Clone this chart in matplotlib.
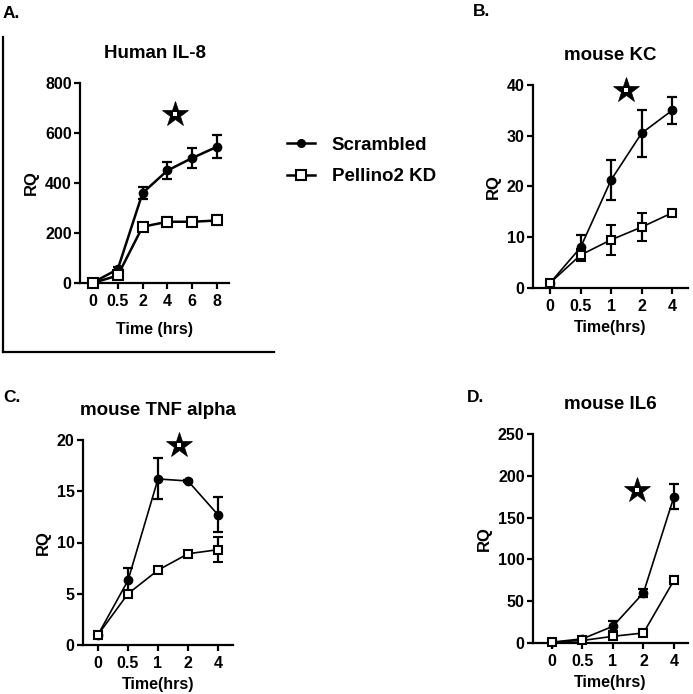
import numpy as np
import matplotlib
matplotlib.use("Agg")
import matplotlib.pyplot as plt
from matplotlib.lines import Line2D

plt.rcParams.update({
    "font.family": ["Liberation Sans", "DejaVu Sans"],
    "font.weight": "bold",
    "axes.labelweight": "bold",
    "axes.titleweight": "bold",
    "axes.linewidth": 1.6,
    "xtick.major.width": 1.6,
    "ytick.major.width": 1.6,
    "xtick.major.size": 4,
    "ytick.major.size": 4,
    "xtick.labelsize": 11.5,
    "ytick.labelsize": 11.5,
    "xtick.major.pad": 4,
    "ytick.major.pad": 2,
})

# ---- data ----
# A: Human IL-8
a_times = ["0", "0.5", "2", "4", "6", "8"]
a_scr = [2, 55, 360, 450, 500, 545]
a_scr_err = [5, 10, 25, 35, 40, 45]
a_pel = [0, 30, 225, 245, 245, 250]
a_pel_err = [5, 8, 20, 20, 18, 20]

# B: mouse KC
b_times = ["0", "0.5", "1", "2", "4"]
b_scr = [1, 8, 21.3, 30.5, 35]
b_scr_err = [0.3, 2.5, 4, 4.6, 2.6]
b_pel = [1, 6.5, 9.5, 12, 14.8]
b_pel_err = [0.3, 1.2, 3, 2.8, 0.3]

# C: mouse TNF alpha
c_times = ["0", "0.5", "1", "2", "4"]
c_scr = [1, 6.3, 16.2, 16.0, 12.7]
c_scr_err = [0.1, 1.2, 2.0, 0.1, 1.7]
c_pel = [1, 5.0, 7.3, 8.9, 9.3]
c_pel_err = [0.1, 0.3, 0.1, 0.2, 1.2]

# D: mouse IL6
d_times = ["0", "0.5", "1", "2", "4"]
d_scr = [1, 5, 20, 60, 175]
d_scr_err = [0.5, 1, 6, 5, 15]
d_pel = [1, 3, 8, 12, 75]
d_pel_err = [0.5, 0.5, 1, 1, 5]

# star positions (category index, value)
stars = {"A": (3.3, 675), "B": (2.5, 39), "C": (2.7, 19.5), "D": (2.8, 183)}

fig = plt.figure(figsize=(6.93, 6.94), dpi=100)
W, H = 693, 694


def px_axes(left, right, bottom, top):
    return fig.add_axes([left / W, 1 - bottom / H, (right - left) / W, (bottom - top) / H])


def draw(ax, times, scr, scr_err, pel, pel_err, lw, sq, xlim, ylim, yticks, title,
         xlabel, xpad, star):
    x = np.arange(len(times))
    ax.errorbar(x, scr, yerr=scr_err, color="black", lw=lw, marker="o", ms=6,
                capsize=3.5, elinewidth=1.6, capthick=1.6, zorder=3, clip_on=False)
    ax.errorbar(x, pel, yerr=pel_err, color="black", lw=lw, marker="s", ms=sq,
                mfc="white", mew=1.5, capsize=3.5, elinewidth=1.6, capthick=1.6,
                zorder=3, clip_on=False)
    # significance star: filled star with a small white centre
    ax.plot([star[0]], [star[1]], marker="*", ms=19, color="black", mew=0.5, clip_on=False)
    ax.plot([star[0]], [star[1]], marker="s", ms=2.5, color="white", mew=0, clip_on=False)
    ax.set_xlim(*xlim)
    ax.set_ylim(*ylim)
    ax.set_yticks(yticks)
    ax.set_xticks(x)
    ax.set_xticklabels(times)
    ax.spines["top"].set_visible(False)
    ax.spines["right"].set_visible(False)
    ax.set_title(title, fontsize=13.5, pad=18)
    ax.set_ylabel("RQ", fontsize=12, labelpad=4)
    ax.set_xlabel(xlabel, fontsize=11.5, labelpad=xpad)
    for lab in ax.get_xticklabels() + ax.get_yticklabels():
        lab.set_fontweight("bold")


axA = px_axes(80, 229, 283, 83)
draw(axA, a_times, a_scr, a_scr_err, a_pel, a_pel_err, 1.8, 7, (-0.52, 5.48), (0, 800),
     [0, 200, 400, 600, 800], "Human IL-8", "Time (hrs)", 9, stars["A"])

axB = px_axes(533, 688, 288, 85)
draw(axB, b_times, b_scr, b_scr_err, b_pel, b_pel_err, 1.2, 6, (-0.56, 4.52), (0, 40),
     [0, 10, 20, 30, 40], "mouse KC", "Time(hrs)", 4, stars["B"])

axC = px_axes(83, 233, 645, 440)
draw(axC, c_times, c_scr, c_scr_err, c_pel, c_pel_err, 1.2, 6, (-0.5, 4.5), (0, 20),
     [0, 5, 10, 15, 20], "mouse TNF alpha", "Time(hrs)", 4, stars["C"])

axD = px_axes(533, 688, 643, 434)
draw(axD, d_times, d_scr, d_scr_err, d_pel, d_pel_err, 1.2, 6, (-0.62, 4.46), (0, 250),
     [0, 50, 100, 150, 200, 250], "mouse IL6", "Time(hrs)", 4, stars["D"])

# panel letters
fig.text(3 / W, 1 - 13 / H, "A.", fontsize=12.5, fontweight="bold", va="center")
fig.text(473 / W, 1 - 12 / H, "B.", fontsize=12.5, fontweight="bold", va="center")
fig.text(3 / W, 1 - 397 / H, "C.", fontsize=12.5, fontweight="bold", va="center")
fig.text(467 / W, 1 - 398 / H, "D.", fontsize=12.5, fontweight="bold", va="center")

# frame around panel A
fig.add_artist(Line2D([3 / W, 3 / W], [1 - 37 / H, 1 - 352 / H], color="black", lw=1.6))
fig.add_artist(Line2D([3 / W, 274 / W], [1 - 352 / H, 1 - 352 / H], color="black", lw=1.6))

# legend
handles = [
    Line2D([], [], color="black", lw=1.8, marker="o", ms=5.5),
    Line2D([], [], color="black", lw=1.8, marker="s", ms=6.5, mfc="white", mew=1.5),
]
fig.legend(handles, ["Scrambled", "Pellino2 KD"], loc="upper left",
           bbox_to_anchor=(270 / W, 1 - 120 / H), frameon=False,
           prop={"size": 13.5, "weight": "bold"}, handlelength=1.5,
           labelspacing=0.75, handletextpad=0.9)

fig.savefig("out.png", dpi=100)
